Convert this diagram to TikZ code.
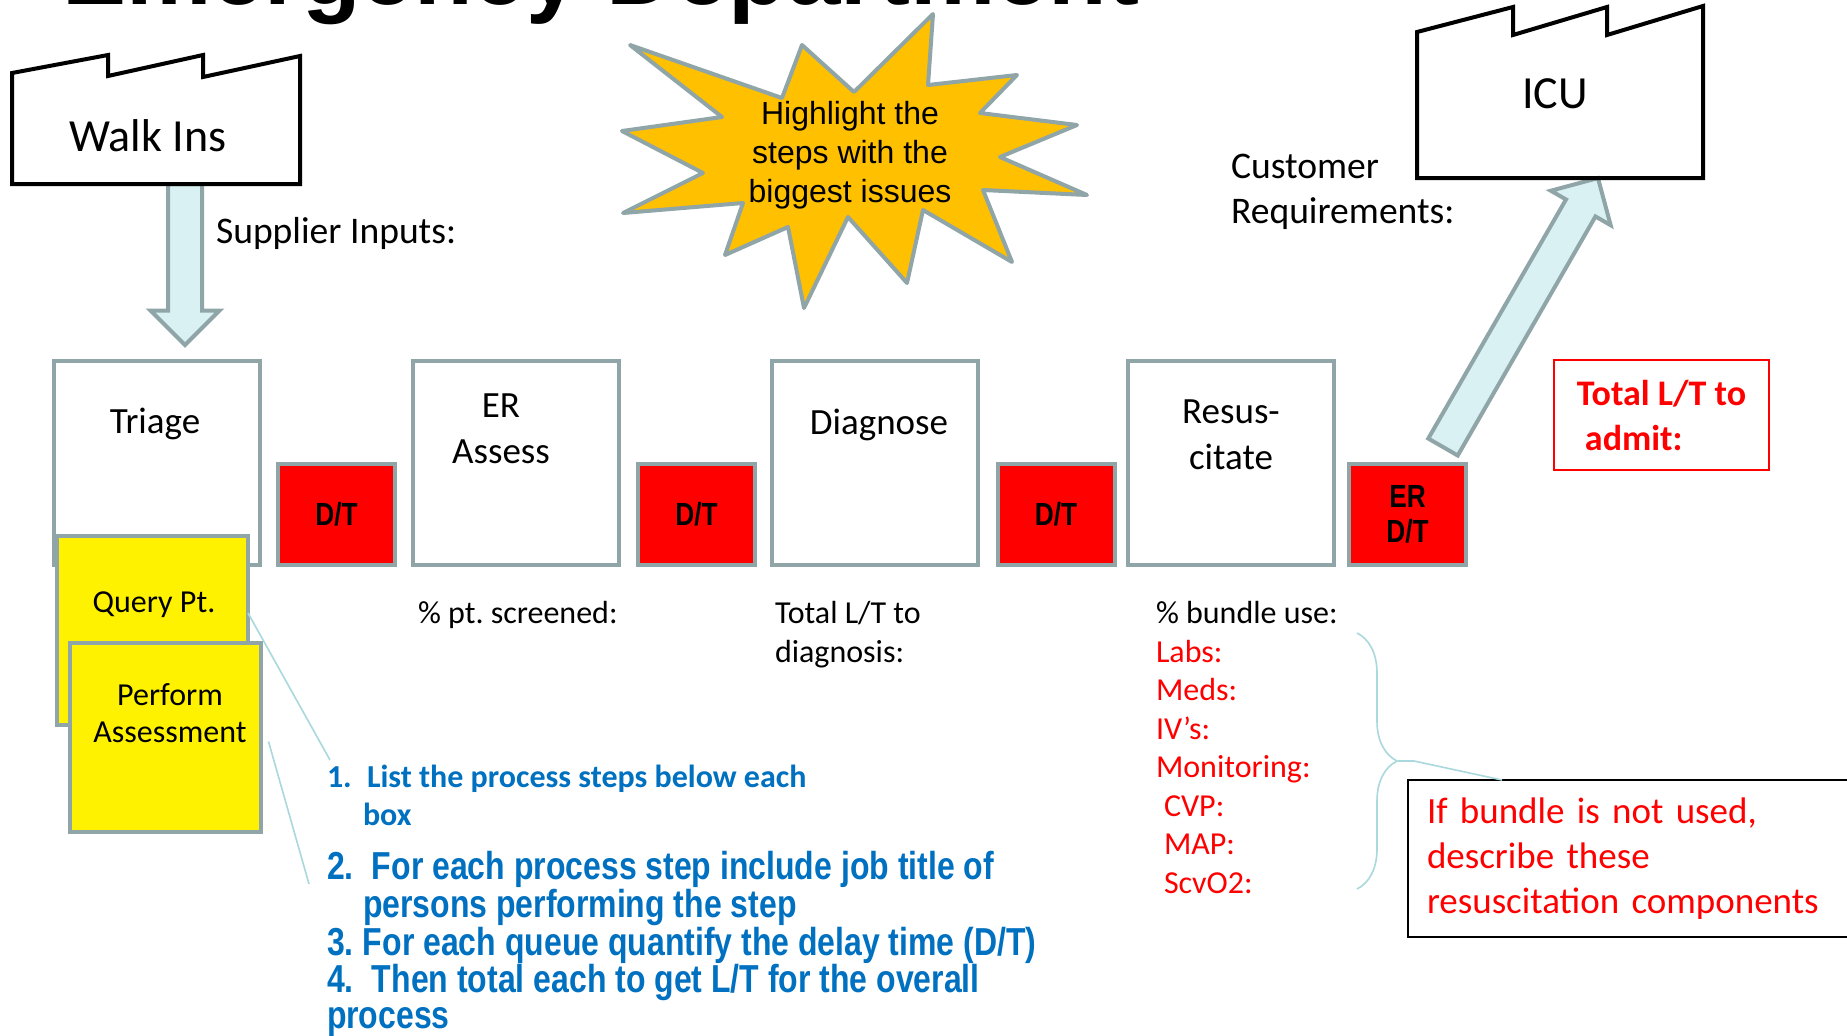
\documentclass[tikz,border=0pt]{standalone}
\usepackage{fontspec}
\setmainfont{Carlito}
\newfontfamily\arialfont{Liberation Sans}
\newfontfamily\narrowfont[FakeStretch=0.82]{Liberation Sans}
\usetikzlibrary{shapes.arrows,decorations.pathreplacing}

\definecolor{boxgray}{HTML}{8FA5A8}
\definecolor{arrowfill}{HTML}{DAF1F4}
\definecolor{burstfill}{HTML}{FFC000}
\definecolor{notered}{HTML}{FF0000}
\definecolor{noteblue}{HTML}{0070C0}
\definecolor{pinline}{HTML}{A9D8DD}

\begin{document}
\begin{tikzpicture}
[x=0.5pt, y=-0.5pt,
every node/.style={inner sep=0pt, outer sep=0pt},
procbox/.style={draw=boxgray, line width=2pt, fill=white, minimum width=103pt, minimum height=102pt},
delaybox/.style={draw=boxgray, line width=2pt, fill=notered, minimum width=58.5pt, minimum height=50.5pt,
  align=center, font=\narrowfont\bfseries\fontsize{16}{17.5}\selectfont},
stickynote/.style={draw=boxgray, line width=2pt, fill=yellow, minimum width=95.5pt, minimum height=94.5pt},
factory/.style={draw=black, line width=2pt, line join=miter},
fatarrow/.style={single arrow, draw=boxgray, line width=2pt, fill=arrowfill, inner sep=7.5pt,
  single arrow head extend=8.75pt, single arrow head indent=0pt},
bigtext/.style={font=\fontsize{23}{27}\selectfont},
boxtext/.style={align=center, font=\fontsize{18.5}{23}\selectfont},
notetext/.style={align=center, font=\fontsize{16}{18.5}\selectfont},
infotext/.style={anchor=base west, font=\fontsize{18.8}{22.5}\selectfont},
smalltext/.style={anchor=base west, font=\fontsize{16}{19.3}\selectfont},
stepshort/.style={anchor=base west, text=noteblue, font=\bfseries\fontsize{16}{19}\selectfont},
steplong/.style={anchor=base west, text=noteblue, font=\narrowfont\bfseries\fontsize{19.5}{19.5}\selectfont},
pointer/.style={draw=pinline, line width=0.8pt},
]

\useasboundingbox (0,0) rectangle (1847,1035);
\fill[white] (0,0) rectangle (1847,1035);

% title, cut at the top edge
\node[anchor=base west, font=\arialfont\bfseries\fontsize{48}{52}\selectfont] (title) at (62,4) {Emergency Department};

% supplier and customer
\node[minimum width=144pt, minimum height=55.5pt] (walkins) at (156,128.5) {};
\node[minimum width=143pt, minimum height=73pt] (icu) at (1560,105) {};

% process boxes
\node[procbox] (triage) at (157,463) {};
\node[procbox] (erassess) at (515.5,463) {};
\node[procbox] (diagnose) at (874.5,463) {};
\node[procbox] (resus) at (1230.5,463) {};

\node[boxtext] (triagetxt) at ([xshift=-1pt,yshift=19.5pt]triage.center) {Triage};
\node[boxtext] (erassesstxt) at ([xshift=-7.25pt,yshift=17pt]erassess.center) {ER\\Assess};
\node[boxtext] (diagnosetxt) at ([xshift=2.25pt,yshift=19pt]diagnose.center) {Diagnose};
\node[boxtext] (resustxt) at ([xshift=0.25pt,yshift=14.25pt]resus.center) {Resus-\\citate};

% delay times
\node[delaybox] (dt1) at (336.5,514.5) {D/T};
\node[delaybox] (dt2) at (696.5,514.5) {D/T};
\node[delaybox] (dt3) at (1056,514.5) {D/T};
\node[delaybox] (dt4) at (1407.5,514.5) {ER\\D/T};

% fat arrows
\path ([xshift=14.5pt]walkins.south) -- ([xshift=14pt,yshift=8pt]triage.north)
  node[pos=0, sloped, allow upside down, anchor=tail, fatarrow, minimum height=80.5pt] (supplyarrow) {};
\path ([xshift=17.75pt,yshift=8.5pt]dt4.north) -- ([xshift=19pt]icu.south)
  node[pos=0, sloped, allow upside down, anchor=tail, fatarrow, minimum height=155.2pt] (admitarrow) {};

\draw[factory] (walkins.south west) -- (walkins.north west) -- ++(96,-18) -- ++(0,21) -- ++(95,-21)
  -- ++(0,22) -- ++(97,-21) -- (walkins.south east) -- cycle;
\node[bigtext] (walklabel) at ([xshift=-4pt,yshift=-3.5pt]walkins.center) {Walk Ins};

\draw[factory] (icu.south west) -- (icu.north west) -- ++(96,-25) -- ++(0,28) -- ++(94,-28)
  -- ++(0,28) -- ++(96,-29) -- (icu.south east) -- cycle;
\node[bigtext] (iculabel) at ([xshift=-2.5pt,yshift=5.5pt]icu.center) {ICU};

\node[infotext] (supplier) at (216,243) {Supplier Inputs:};
\node[infotext] (customer) at (1231,178) {Customer};
\node[infotext] (requirements) at (1231,223) {Requirements:};

% starburst
\draw[draw=boxgray, fill=burstfill, line width=2pt, line join=round]
  (630,45) -- (782,98) -- (802,45) -- (854,92) -- (933,14) -- (928,85) -- (1017,75)
  -- (980,113) -- (1077,125) -- (1000,157) -- (1087,195) -- (983,190) -- (1012,262)
  -- (923,210) -- (907,283) -- (848,217) -- (804,308) -- (788,227) -- (725,255)
  -- (743,203) -- (623,213) -- (703,173) -- (622,131) -- (722,117) -- cycle;
\node[align=center, font=\arialfont\fontsize{16}{19.5}\selectfont] (burst) at (850,155)
  {Highlight the\\steps with the\\biggest issues};

% process steps under triage
\node[stickynote] (query) at (152.5,630.5) {};
\node[notetext] (querytxt) at ([xshift=0.75pt,yshift=13pt]query.center) {Query Pt.};
\node[stickynote] (perform) at (165,737.5) {};
\node[notetext] (performtxt) at ([xshift=2.5pt,yshift=12.25pt]perform.center) {Perform\\Assessment};

% measures
\node[smalltext] (screened) at (418,623) {\% pt.\ screened:};
\node[smalltext] (ltdiag) at (775,623) {Total L/T to};
\node[smalltext] (ltdiagb) at (775,662) {diagnosis:};
\node[smalltext] (bundle) at (1156,623) {\% bundle use:};
\foreach \lbl/\dx [count=\i from 0] in {Labs:/0, Meds:/0, IV's:/0, Monitoring:/0, CVP:/8, MAP:/8, ScvO2:/8}
  \node[smalltext, text=notered] (bundle\i) at ({1156+\dx},{662+38.5*\i}) {\lbl};

\node[draw=notered, line width=1pt, anchor=north west, minimum width=107.5pt,
  minimum height=55pt, align=left, text=notered, font=\bfseries\fontsize{18}{22.5}\selectfont]
  (admit) at (1554,360) {Total L/T to\\\hspace*{4pt}admit:};

% bundle brace and callout
\coordinate (bracetop) at (1357,633);
\coordinate (bracebot) at (1357,889);
\coordinate (bracetip) at (1398,761);
\draw[pointer, decorate, decoration={brace, amplitude=20pt}] (bracetop) -- (bracebot);
\node[draw=black, line width=1pt, anchor=north west, text width=226pt, inner xsep=9.5pt,
  minimum height=78.5pt, align=left, text=notered, font=\fontsize{18.5}{22.5}\selectfont]
  (callout) at (1408,780) {If bundle is not used,\\describe these\\resuscitation components};
\draw[pointer] (bracetip) -- ++(16,0) -- ([xshift=47pt]callout.north west);

% instructions
\node[stepshort] (item1) at (327,787) {\makebox[20pt][l]{1.}List the process steps below each};
\node[stepshort] (item1b) at (363,825) {box};
\node[steplong] (item2) at (327,879) {\makebox[22.5pt][l]{2.}For each process step include job title of};
\node[steplong] (item2b) at (363,917) {persons performing the step};
\node[steplong] (item3) at (327,955) {\makebox[18pt][l]{3.}For each queue quantify the delay time (D/T)};
\node[steplong] (item4) at (327,992) {\makebox[22.5pt][l]{4.}Then total each to get L/T for the overall};
\node[steplong] (item4b) at (327,1028) {process};

\coordinate (pin1) at (330,760);
\coordinate (pin2) at (309,884);
\draw[pointer] ([yshift=8.75pt]query.east) -- (pin1);
\draw[pointer] ([xshift=4pt,yshift=-2pt]perform.east) -- (pin2);
\end{tikzpicture}
\end{document}
